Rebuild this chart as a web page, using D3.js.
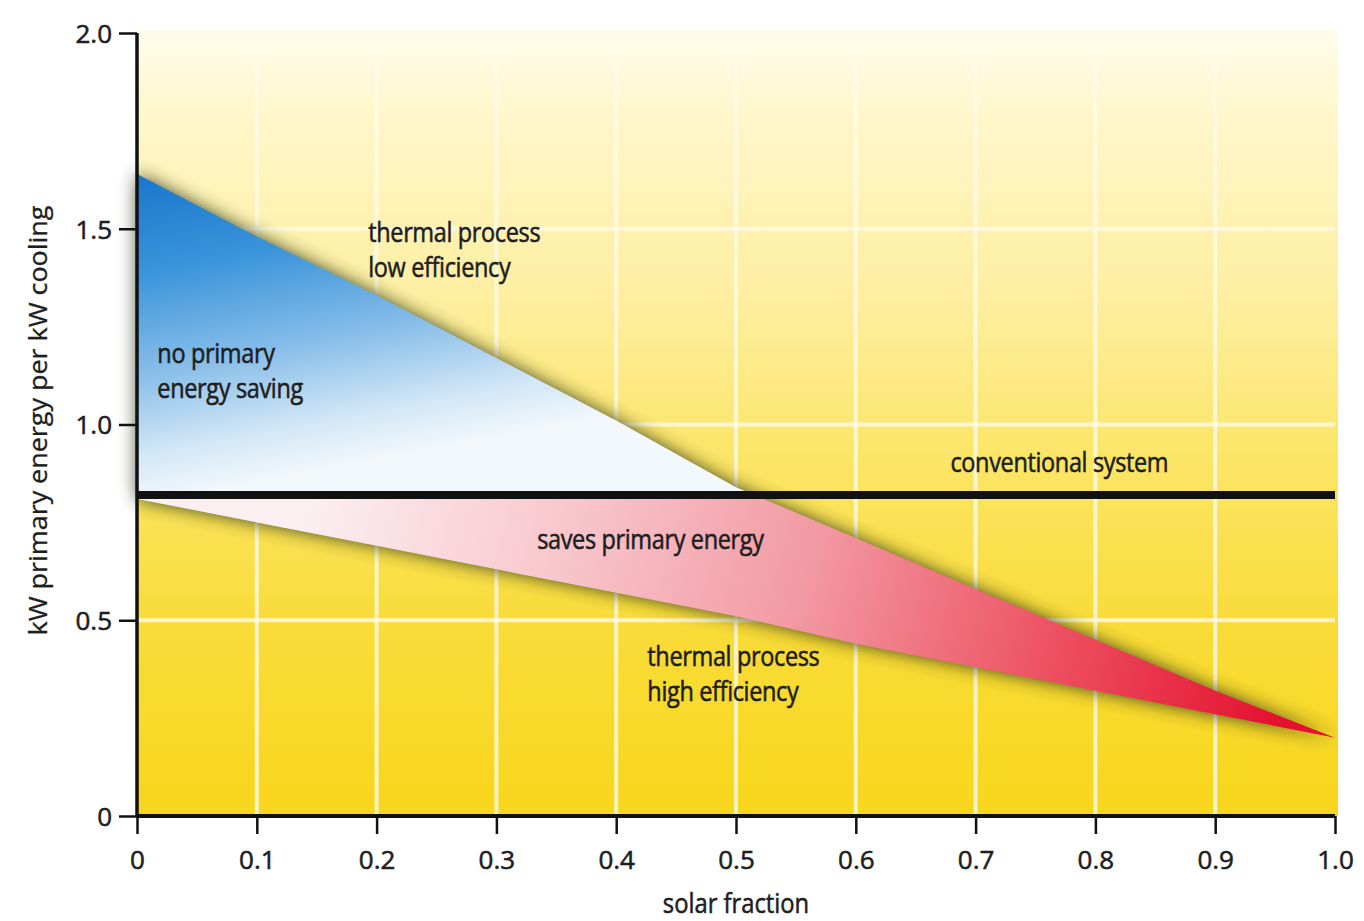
<!DOCTYPE html>
<html><head><meta charset="utf-8">
<script src="https://cdn.jsdelivr.net/npm/d3@7/dist/d3.min.js"></script>
<style>
html,body{margin:0;padding:0;background:#fff;}
text{font-family:"Open Sans","Noto Sans",sans-serif;fill:#1e1e1e;stroke:#1e1e1e;stroke-width:0.55px;}
</style></head>
<body>
<svg id="chart" width="1364" height="921"></svg>
<script>
// ---- data ----
const solarFraction = [0, 0.1, 0.2, 0.3, 0.4, 0.5, 0.6, 0.7, 0.8, 0.9, 1.0];
const lowEfficiency = [1.64, 1.48, 1.33, 1.17, 1.01, 0.84, 0.71, 0.58, 0.45, 0.32, 0.20];
const highEfficiency = [0.81, 0.75, 0.69, 0.63, 0.57, 0.51, 0.44, 0.38, 0.32, 0.26, 0.20];
const conventional = 0.82;
const xTicks = [0, 0.1, 0.2, 0.3, 0.4, 0.5, 0.6, 0.7, 0.8, 0.9, 1.0];
const xTickLabels = ["0", "0.1", "0.2", "0.3", "0.4", "0.5", "0.6", "0.7", "0.8", "0.9", "1.0"];
const yTicks = [0, 0.5, 1.0, 1.5, 2.0];
const yTickLabels = ["0", "0.5", "1.0", "1.5", "2.0"];
const gridY = [0.5, 1.0, 1.5];
const regionLabels = [
  ["thermal process", "low efficiency"],
  ["no primary", "energy saving"],
  ["conventional system"],
  ["saves primary energy"],
  ["thermal process", "high efficiency"]
];
const yTitle = "kW primary energy per kW cooling";
const xTitle = "solar fraction";

// ---- layout (annotation anchors in data units: solar fraction, kW) ----
const labelAnchors = [[0.193, 1.467], [0.017, 1.157], [0.679, 0.878], [0.334, 0.683], [0.426, 0.384]];

const svg = d3.select("#chart");
const x = d3.scaleLinear().domain([0, 1]).range([137, 1335]);
const y = d3.scaleLinear().domain([0, 2]).range([816, 33]);

const defs = svg.append("defs");
const bg = defs.append("linearGradient").attr("id", "bg").attr("x1", 0).attr("y1", 0).attr("x2", 0).attr("y2", 1);
[[0, "#fffcec"], [0.12, "#fff6c8"], [0.35, "#fdee9e"], [0.55, "#fbe566"], [0.75, "#f9dc3a"], [1, "#f8d61c"]]
  .forEach(([o, c]) => bg.append("stop").attr("offset", o).attr("stop-color", c));

const blueG = defs.append("linearGradient").attr("id", "blue").attr("gradientUnits", "userSpaceOnUse")
  .attr("x1", x(0)).attr("y1", y(1.64)).attr("x2", x(0.05)).attr("y2", y(conventional));
[[0, "#1877cc"], [0.3, "#3a94da"], [0.6, "#86bde9"], [0.85, "#d3e7f6"], [1, "#f3f8fc"]]
  .forEach(([o, c]) => blueG.append("stop").attr("offset", o).attr("stop-color", c));

const redG = defs.append("linearGradient").attr("id", "red").attr("gradientUnits", "userSpaceOnUse")
  .attr("x1", x(0.15)).attr("y1", y(0.9)).attr("x2", x(0.95)).attr("y2", y(0.2));
[[0, "#fbeff2"], [0.25, "#f8c8ce"], [0.5, "#f39aa3"], [0.75, "#ed5464"], [1, "#e4112f"]]
  .forEach(([o, c]) => redG.append("stop").attr("offset", o).attr("stop-color", c));

const blur = defs.append("filter").attr("id", "shadow").attr("x", "-10%").attr("y", "-20%").attr("width", "120%").attr("height", "140%");
blur.append("feGaussianBlur").attr("stdDeviation", 9);

// background
svg.append("rect").attr("x", x(0)).attr("y", y(2) - 3).attr("width", x(1) - x(0) + 3).attr("height", y(0) - y(2) + 3)
  .attr("fill", "url(#bg)");

// grid
svg.append("g").selectAll("line").data(xTicks.slice(1, -1)).join("line")
  .attr("x1", d => x(d)).attr("x2", d => x(d)).attr("y1", y(2)).attr("y2", y(0))
  .attr("stroke", "#fffbe8").attr("stroke-width", 4).attr("opacity", 0.8);
svg.append("g").selectAll("line").data(gridY).join("line")
  .attr("x1", x(0)).attr("x2", x(1)).attr("y1", d => y(d)).attr("y2", d => y(d))
  .attr("stroke", "#fffbe8").attr("stroke-width", 4).attr("opacity", 0.8);

// build region data
const pts = solarFraction.map((s, i) => ({s, up: lowEfficiency[i], lo: highEfficiency[i]}));
const dense = [];
for (let i = 0; i < pts.length; i++) {
  dense.push(pts[i]);
  if (i < pts.length - 1) {
    const a = pts[i], b = pts[i + 1];
    if ((a.up - conventional) * (b.up - conventional) < 0) {
      const t = (a.up - conventional) / (a.up - b.up);
      dense.push({s: a.s + t * (b.s - a.s), up: conventional, lo: a.lo + t * (b.lo - a.lo)});
    }
  }
}

const whole = d3.area().x(d => x(d.s)).y0(d => y(d.lo)).y1(d => y(d.up));
svg.append("path").datum(pts).attr("d", whole)
  .attr("fill", "#2b3612").attr("opacity", 0.9).attr("filter", "url(#shadow)");

const blueData = dense.filter(d => d.up >= conventional);
svg.append("path").datum(blueData)
  .attr("d", d3.area().x(d => x(d.s)).y0(y(conventional)).y1(d => y(d.up)))
  .attr("fill", "url(#blue)");

svg.append("path").datum(dense)
  .attr("d", d3.area().x(d => x(d.s)).y0(d => y(d.lo)).y1(d => y(Math.min(d.up, conventional))))
  .attr("fill", "url(#red)");

// conventional line
svg.append("line").attr("x1", x(0)).attr("x2", x(1)).attr("y1", y(conventional)).attr("y2", y(conventional))
  .attr("stroke", "#111").attr("stroke-width", 8);

// axes
const xAxis = svg.append("g").attr("transform", `translate(0,${y(0)})`)
  .call(d3.axisBottom(x).tickValues(xTicks).tickFormat((d, i) => xTickLabels[i]).tickSize(18).tickPadding(17));
const yAxis = svg.append("g").attr("transform", `translate(${x(0)},0)`)
  .call(d3.axisLeft(y).tickValues(yTicks).tickFormat((d, i) => yTickLabels[i]).tickSize(18).tickPadding(7));
[xAxis, yAxis].forEach(g => {
  g.select(".domain").attr("stroke", "#111").attr("stroke-width", 3.5);
  g.selectAll(".tick line").attr("stroke", "#111").attr("stroke-width", 2.5);
  g.selectAll(".tick text").style("font-family", "'Open Sans','Noto Sans',sans-serif")
    .style("font-size", "26px").attr("fill", "#1e1e1e");
});
xAxis.select(".domain").attr("d", `M${x(0)},0H${x(1)}`).attr("stroke-width", 4);
yAxis.select(".domain").attr("d", `M0,${y(2)}V${y(0)}`);
yAxis.selectAll(".tick text").attr("dy", "0.36em");

// titles
svg.append("text").attr("transform", `translate(47,${(y(0) + y(2)) / 2 - 4}) rotate(-90)`)
  .attr("text-anchor", "middle").style("font-size", "25px").style("stroke-width", "0.3px")
  .attr("textLength", 430).attr("lengthAdjust", "spacingAndGlyphs").text(yTitle);
svg.append("text").attr("x", x(0.5)).attr("y", 913).attr("text-anchor", "middle")
  .style("font-size", "27px")
  .attr("transform", `translate(${x(0.5)},0) scale(0.88,1) translate(${-x(0.5)},0)`).text(xTitle);

// region labels
regionLabels.forEach((lines, k) => {
  const [ax, ay] = labelAnchors[k];
  const px = x(ax), py = y(ay);
  const t = svg.append("text")
    .attr("transform", `translate(${px},${py}) scale(0.87,1)`)
    .style("font-size", "27px").style("letter-spacing", "-0.4px");
  lines.forEach((line, i) => t.append("tspan").attr("x", 0).attr("y", i * 35).text(line));
});
</script>
</body></html>
